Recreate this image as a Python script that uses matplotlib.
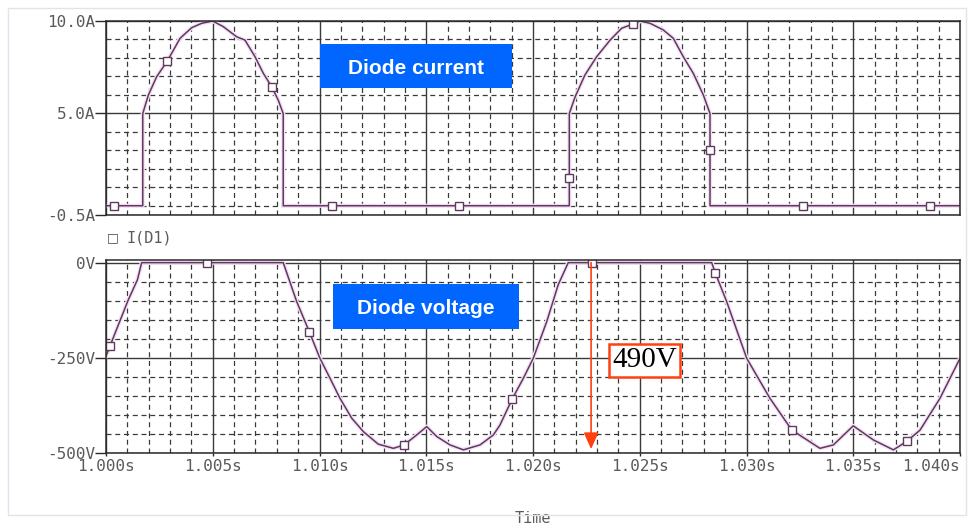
import matplotlib.pyplot as plt
from matplotlib.ticker import MultipleLocator, FuncFormatter
from matplotlib.patches import Rectangle

# diode current I(D1), A  (time in s)
t_i = [1.0000, 1.00172, 1.00172, 1.00198, 1.00237, 1.00287, 1.00347, 1.00401,
       1.00448, 1.00500, 1.00549, 1.00612, 1.00651, 1.00698, 1.00737, 1.00776,
       1.00807, 1.00830, 1.00830,
       1.02170, 1.02170, 1.02197, 1.02243, 1.02298, 1.02361, 1.02415, 1.02467,
       1.02501, 1.02548, 1.02610, 1.02657, 1.02704, 1.02751, 1.02798, 1.02829,
       1.02829, 1.0400]
i_d = [0, 0, 4.98, 5.97, 6.97, 7.82, 9.05, 9.62,
       9.86, 9.98, 9.68, 9.13, 8.95, 8.05, 7.15, 6.43,
       5.70, 4.98, 0,
       0, 4.98, 5.88, 7.06, 8.05, 8.95, 9.59, 9.82,
       9.98, 9.86, 9.50, 9.05, 8.05, 7.15, 5.98, 4.98,
       0, 0]
t_i_mk = [1.00038, 1.00287, 1.00776, 1.01059, 1.01653, 1.02170, 1.02467, 1.02829, 1.03263, 1.03859]
i_mk = [0, 7.82, 6.43, 0, 0, 1.5, 9.82, 3.0, 0, 0]

# diode voltage, V
t_v = [1.0000, 1.00019, 1.00104, 1.00147, 1.00167, 1.00830, 1.00893, 1.00952,
       1.01002, 1.01049, 1.01096, 1.01151, 1.01205, 1.01275, 1.01346, 1.01396,
       1.01455, 1.01502, 1.01549, 1.01611, 1.01674, 1.01752, 1.01814, 1.01845,
       1.01903, 1.01955, 1.02001, 1.02064, 1.02118, 1.02165,
       1.02837, 1.02853, 1.02907, 1.03001, 1.03110, 1.03212, 1.03344, 1.03407,
       1.03500, 1.03594, 1.03688, 1.03750, 1.03813, 1.03906, 1.0400]
v_d = [-245, -218, -98, -45, 0, 0, -102, -181,
       -251, -303, -356, -408, -443, -476, -487, -478,
       -452, -430, -456, -478, -491, -478, -452, -426,
       -357, -303, -251, -155, -58, 0,
       0, -26, -102, -251, -356, -439, -487, -478,
       -428, -465, -491, -469, -439, -356, -251]
t_v_mk = [1.00019, 1.00474, 1.00952, 1.01396, 1.01903, 1.02275, 1.02853, 1.03212, 1.03750]
v_mk = [-218, 0, -181, -478, -357, 0, -26, -439, -469]

x_ticks = [1.000, 1.005, 1.010, 1.015, 1.020, 1.025, 1.030, 1.035, 1.040]
i_ticks = [-0.5, 5.0, 10.0]
i_labels = ['-0.5A', '5.0A', '10.0A']
v_ticks = [-500, -250, 0]
v_labels = ['-500V', '-250V', '0V']

trace = '#5e3a5e'
halo = '#f6e0f6'
grid_c = '#3a3a3a'
lab_c = '#5a5a5a'
mono = 'DejaVu Sans Mono'

fig = plt.figure(figsize=(9.7, 5.25), dpi=100)
ax1 = fig.add_axes([0.1093, 0.5905, 0.8804, 0.3701])
ax2 = fig.add_axes([0.1093, 0.1366, 0.8804, 0.3682])


def style(ax):
    ax.set_xlim(1.000, 1.040)
    ax.xaxis.set_minor_locator(MultipleLocator(0.001))
    ax.grid(which='major', color=grid_c, lw=1.0)
    ax.grid(which='minor', color=grid_c, lw=0.9, ls=(0, (4, 3)))
    ax.set_axisbelow(True)
    for s in ax.spines.values():
        s.set_color('#2a2a2a')
        s.set_linewidth(1.1)
    ax.tick_params(which='major', length=8, width=1, color='#2a2a2a', pad=0,
                   labelcolor=lab_c, labelsize=11.5)
    ax.tick_params(which='minor', length=0)
    ax.tick_params(axis='x', length=2, pad=2)


# current panel
ax1.plot(t_i, i_d, color=halo, lw=3, solid_joinstyle='round')
ax1.plot(t_i, i_d, color=trace, lw=1.1)
ax1.plot(t_i_mk, i_mk, ls='none', marker='s', ms=5.5, mfc='white', mec=trace, mew=1)
ax1.set_ylim(-0.5, 10.0)
ax1.set_xticks(x_ticks)
ax1.set_yticks(i_ticks)
ax1.set_yticklabels(i_labels)
ax1.yaxis.set_minor_locator(MultipleLocator(1))
style(ax1)
ax1.tick_params(axis='x', labelbottom=False, length=0)

# voltage panel
ax2.plot(t_v, v_d, color=halo, lw=3, solid_joinstyle='round')
ax2.plot(t_v, v_d, color=trace, lw=1.1)
ax2.plot(t_v_mk, v_mk, ls='none', marker='s', ms=5.5, mfc='white', mec=trace, mew=1)
ax2.set_ylim(-500, 7)
ax2.set_yticks(v_ticks)
ax2.set_yticklabels(v_labels)
ax2.yaxis.set_minor_locator(MultipleLocator(50))
ax2.set_xticks(x_ticks)
ax2.xaxis.set_major_formatter(FuncFormatter(lambda v, p: '%.3fs' % v))
style(ax2)
ax2.set_xlabel('Time', family=mono, color=lab_c, fontsize=11, labelpad=27)

fig.canvas.draw()
for ax in (ax1, ax2):
    for lbl in ax.get_yticklabels() + ax.get_xticklabels():
        lbl.set_family(mono)
ax2.get_xticklabels()[-1].set_horizontalalignment('right')

# legend of the current trace
fig.text(112.7 / 970, 1 - 238 / 525, '\u25a1', family='DejaVu Sans', color=trace,
         fontsize=9, ha='center', va='center')
fig.text(127 / 970, 1 - 238 / 525, 'I(D1)', family=mono, color=lab_c,
         fontsize=11, ha='left', va='center')

# blue caption boxes
blue = '#0066ff'
for (x0, y0, x1, y1, txt) in [(320, 44, 512, 88, 'Diode current'),
                              (333, 284, 519, 329, 'Diode voltage')]:
    fig.patches.append(Rectangle((x0 / 970, 1 - y1 / 525), (x1 - x0) / 970,
                                 (y1 - y0) / 525, transform=fig.transFigure,
                                 facecolor=blue, edgecolor='none', zorder=5))
    fig.text((x0 + x1) / 2 / 970, 1 - (y0 + y1 + 4) / 2 / 525, txt, color='white',
             fontsize=15, fontweight='bold', family='Liberation Sans',
             ha='center', va='center', zorder=6)

# 490 V arrow
red = '#ff4010'
ax2.annotate('', xy=(1.02272, -489), xytext=(1.02272, 0),
             arrowprops=dict(arrowstyle='-|>,head_length=1.0,head_width=0.45',
                             color=red, lw=1.2, shrinkA=0, shrinkB=0), zorder=6)
ax2.text(1.02522, -256, '490V', family='Liberation Serif', fontsize=21,
         color='black', ha='center', va='center', zorder=7,
         bbox=dict(boxstyle='square,pad=0.12', facecolor='white', edgecolor=red, lw=1.8))

# faint screenshot frame
fig.patches.append(Rectangle((8 / 970, 1 - 515 / 525), 958 / 970, 507 / 525,
                             transform=fig.transFigure, facecolor='none',
                             edgecolor='#dfe5ec', lw=1, zorder=0))

fig.savefig('out.png', dpi=100)
